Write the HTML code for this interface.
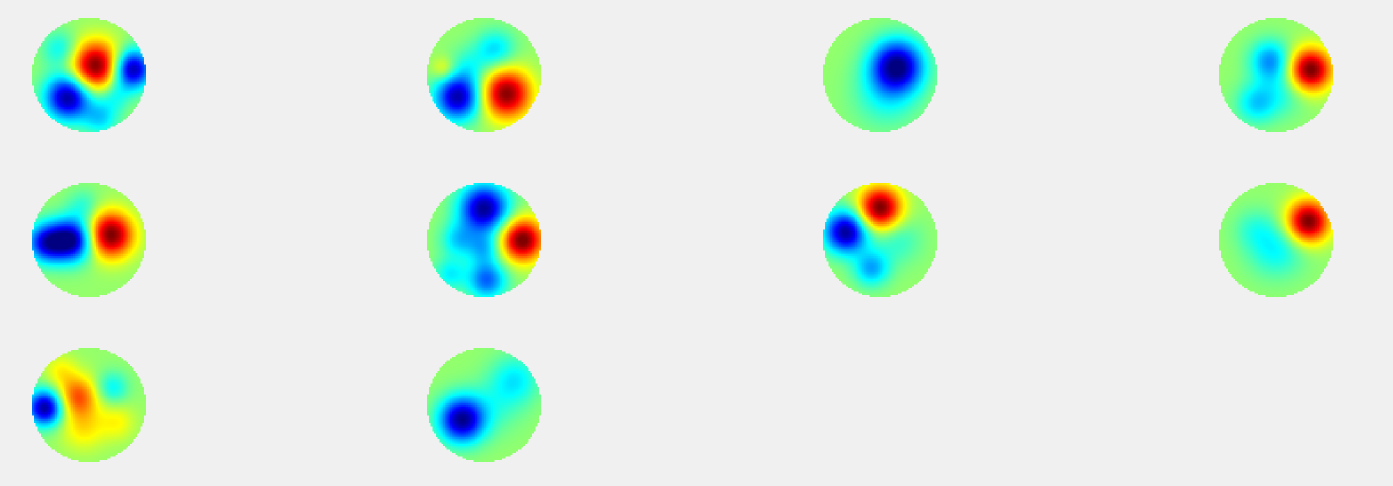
<!DOCTYPE html>
<html><head><meta charset="utf-8">
<style>
html,body{margin:0;padding:0;background:#f0f0f0;width:1393px;height:486px;overflow:hidden;font-family:"Liberation Sans",sans-serif;}
#wrap{position:relative;width:1393px;height:486px;}
canvas{position:absolute;image-rendering:pixelated;}
</style></head>
<body>
<div id="wrap"></div>
<script>
// map centers (grid layout) and radius
const mapCols = [89, 484, 880, 1276];
const mapRows = [75, 240, 405];
const mapRadius = 57;
const baseValue = 0.04;
// blobs per map: [x, y, amplitude, sigma] in normalized circle coords
const map1 = [[0.12,-0.15,1.0,0.3],[-0.37,0.39,-1.0,0.28],[0.75,-0.1,-1.0,0.24],[0.2,0.75,-0.35,0.22],[-0.5,-0.45,-0.3,0.22],[0.45,0.35,-0.25,0.2]];
const map2 = [[-0.46,0.39,-0.95,0.28],[0.39,0.33,0.95,0.3],[0.2,-0.45,-0.35,0.24],[-0.25,-0.15,-0.2,0.25],[-0.7,-0.1,0.25,0.15]];
const map3 = [[0.3,-0.16,-1.0,0.32],[0.1,0.35,-0.25,0.4]];
const map4 = [[0.6,-0.09,1.0,0.26],[-0.1,-0.25,-0.5,0.25],[-0.35,0.5,-0.35,0.25],[0.1,0.3,-0.2,0.3]];
const map5 = [[-0.3,0.0,-1.0,0.26],[-0.75,0.05,-0.8,0.24],[0.37,-0.09,1.0,0.28],[-0.1,-0.6,-0.2,0.2]];
const map6 = [[0.0,-0.55,-1.0,0.3],[0.67,0.0,1.0,0.26],[0.05,0.7,-0.6,0.24],[-0.45,0.0,-0.35,0.22],[0.0,0.15,-0.35,0.2],[-0.6,0.6,-0.3,0.2]];
const map7 = [[0.0,-0.56,1.0,0.26],[-0.6,-0.14,-1.0,0.26],[-0.15,0.5,-0.45,0.22],[0.3,0.0,-0.2,0.3]];
const map8 = [[0.56,-0.32,1.0,0.26],[0.0,0.15,-0.3,0.35],[-0.4,-0.2,-0.15,0.25]];
const map9 = [[-0.77,0.05,-1.0,0.22],[-0.2,-0.15,0.55,0.25],[-0.1,0.4,0.25,0.28],[0.4,-0.3,-0.3,0.2],[0.5,0.3,0.2,0.22],[-0.5,-0.6,0.2,0.2]];
const map10 = [[-0.39,0.26,-1.0,0.28],[0.55,-0.45,-0.3,0.3],[0.2,0.0,-0.15,0.35]];
const maps = [map1,map2,map3,map4,map5,map6,map7,map8,map9,map10];

function jet(v){
  const t=Math.max(0,Math.min(1,(v+1)/2));
  const c=x=>Math.round(255*Math.max(0,Math.min(1,1.5-Math.abs(x))));
  return [c(4*t-3),c(4*t-2),c(4*t-1)];
}
const N=64;
const wrap=document.getElementById('wrap');
maps.forEach((blobs,i)=>{
  const cx=mapCols[i%4], cy=mapRows[Math.floor(i/4)];
  const cv=document.createElement('canvas');
  
  
  cv.width=N; cv.height=N;
  cv.style.left=(cx-mapRadius)+'px'; cv.style.top=(cy-mapRadius)+'px';
  cv.style.width=(2*mapRadius)+'px'; cv.style.height=(2*mapRadius)+'px';
  const ctx=cv.getContext('2d');
  const img=ctx.createImageData(N,N);
  for(let py=0;py<N;py++)for(let px=0;px<N;px++){
    const x=(px+0.5)/N*2-1, y=(py+0.5)/N*2-1;
    const k=(py*N+px)*4;
    if(x*x+y*y>1){img.data[k+3]=0;continue;}
    let v=baseValue;
    blobs.forEach(b=>{const dx=x-b[0],dy=y-b[1];v+=b[2]*Math.exp(-(dx*dx+dy*dy)/(2*b[3]*b[3]));});
    const c=jet(v);
    img.data[k]=c[0];img.data[k+1]=c[1];img.data[k+2]=c[2];img.data[k+3]=255;
  }
  ctx.putImageData(img,0,0);
  wrap.appendChild(cv);
});
</script>
</body></html>
